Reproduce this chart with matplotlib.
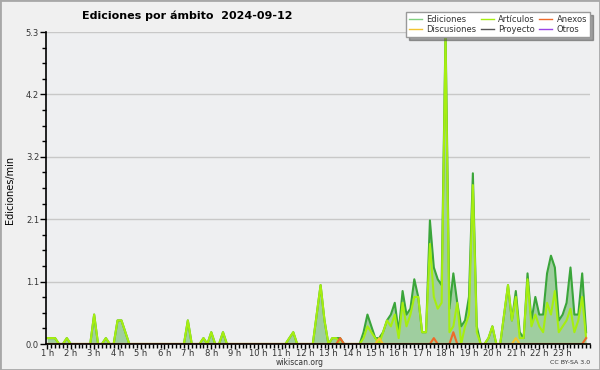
import numpy as np
import matplotlib.pyplot as plt
from matplotlib.lines import Line2D
from matplotlib.patches import Rectangle

# Ediciones/min cada 10 minutos, desde la 1 h (6 valores por hora)
ediciones = [
    0.1, 0.1, 0.1, 0.0, 0.0, 0.1,   # 1 h
    0.0, 0.0, 0.0, 0.0, 0.0, 0.0,   # 2 h
    0.5, 0.0, 0.0, 0.1, 0.0, 0.0,   # 3 h
    0.4, 0.4, 0.2, 0.0, 0.0, 0.0,   # 4 h
    0.0, 0.0, 0.0, 0.0, 0.0, 0.0,   # 5 h
    0.0, 0.0, 0.0, 0.0, 0.0, 0.0,   # 6 h
    0.4, 0.0, 0.0, 0.0, 0.1, 0.0,   # 7 h
    0.2, 0.0, 0.0, 0.2, 0.0, 0.0,   # 8 h
    0.0, 0.0, 0.0, 0.0, 0.0, 0.0,   # 9 h
    0.0, 0.0, 0.0, 0.0, 0.0, 0.0,   # 10 h
    0.0, 0.0, 0.1, 0.2, 0.0, 0.0,   # 11 h
    0.0, 0.0, 0.0, 0.5, 1.0, 0.4,   # 12 h
    0.0, 0.1, 0.1, 0.1, 0.0, 0.0,   # 13 h
    0.0, 0.0, 0.0, 0.2, 0.5, 0.3,   # 14 h
    0.1, 0.1, 0.2, 0.4, 0.5, 0.7,   # 15 h
    0.2, 0.9, 0.5, 0.6, 1.1, 0.8,   # 16 h
    0.2, 0.2, 2.1, 1.3, 1.1, 1.0,   # 17 h
    5.3, 0.6, 1.2, 0.7, 0.3, 0.4,   # 18 h
    0.8, 2.9, 0.3, 0.0, 0.0, 0.1,   # 19 h
    0.3, 0.0, 0.0, 0.5, 1.0, 0.4,   # 20 h
    0.9, 0.2, 0.1, 1.2, 0.4, 0.8,   # 21 h
    0.5, 0.5, 1.2, 1.5, 1.3, 0.4,   # 22 h
    0.5, 0.7, 1.3, 0.5, 0.5, 1.2,   # 23 h
    0.2,                            # 24 h
]

articulos = [
    0.1, 0.1, 0.1, 0.0, 0.0, 0.1,
    0.0, 0.0, 0.0, 0.0, 0.0, 0.0,
    0.5, 0.0, 0.0, 0.1, 0.0, 0.0,
    0.4, 0.4, 0.2, 0.0, 0.0, 0.0,
    0.0, 0.0, 0.0, 0.0, 0.0, 0.0,
    0.0, 0.0, 0.0, 0.0, 0.0, 0.0,
    0.4, 0.0, 0.0, 0.0, 0.1, 0.0,
    0.2, 0.0, 0.0, 0.2, 0.0, 0.0,
    0.0, 0.0, 0.0, 0.0, 0.0, 0.0,
    0.0, 0.0, 0.0, 0.0, 0.0, 0.0,
    0.0, 0.0, 0.1, 0.2, 0.0, 0.0,
    0.0, 0.0, 0.0, 0.5, 1.0, 0.4,
    0.0, 0.1, 0.1, 0.0, 0.0, 0.0,
    0.0, 0.0, 0.0, 0.1, 0.3, 0.2,
    0.1, 0.0, 0.2, 0.4, 0.3, 0.5,
    0.1, 0.7, 0.3, 0.5, 0.8, 0.8,
    0.2, 0.2, 1.7, 0.8, 0.6, 0.7,
    5.2, 0.2, 0.3, 0.7, 0.0, 0.3,
    0.5, 2.7, 0.2, 0.0, 0.0, 0.1,
    0.3, 0.0, 0.0, 0.5, 1.0, 0.4,
    0.8, 0.1, 0.1, 1.1, 0.3, 0.5,
    0.3, 0.2, 0.7, 0.5, 0.9, 0.2,
    0.3, 0.4, 0.6, 0.2, 0.4, 0.8,
    0.1,
]

# Series casi vacías: índice (cada 10 min desde la 1 h) y valor
anexos_idx = [75, 99, 104, 138]
anexos_val = [0.1, 0.1, 0.2, 0.1]
discusiones_idx = [85, 120]
discusiones_val = [0.1, 0.1]

horas = list(range(1, 24))
etiquetas = [f'{h} h' for h in horas]

# Construcción de series
n = len(ediciones)
t = 1 + np.arange(n) / 6.0
anexos = np.zeros(n)
anexos[anexos_idx] = anexos_val
discusiones = np.zeros(n)
discusiones[discusiones_idx] = discusiones_val
proyecto = np.zeros(n)
otros = np.zeros(n)

# Colores
c_edic_fill = '#9fce9f'
c_edic = '#3aa53a'
c_edic_leg = '#80d080'
c_art = '#a6ee10'
c_anx = '#ee6a2a'
c_disc = '#f2c430'
c_proy = '#555555'
c_otros = '#9a44e6'

fig = plt.figure(figsize=(6, 3.7), dpi=100, facecolor='#f0f0f0')
fig.patches.append(Rectangle((0, 0), 1, 1, transform=fig.transFigure,
                             fill=False, edgecolor='#a8a8a8', lw=2))
ax = fig.add_axes([46 / 600, 26 / 370, 544 / 600, 312 / 370])
ax.set_facecolor('#eeeff1')

lw = 1.5
ax.plot(t, otros, color=c_otros, lw=1)
ax.plot(t, proyecto, color=c_proy, lw=1)
ax.fill_between(t, ediciones, color=c_edic_fill, lw=0)
ax.plot(t, ediciones, color=c_edic, lw=lw)
ax.plot(t, articulos, color=c_art, lw=lw)
ax.plot(t, discusiones, color=c_disc, lw=lw)
ax.plot(t, anexos, color=c_anx, lw=lw)

ax.set_xlim(0.945, 24.09)
ax.set_ylim(0, 5.3)

ax.set_xticks(horas)
ax.set_xticklabels(etiquetas)
ax.set_xticks(1 + np.arange(0, 140) / 6.0, minor=True)
yt = np.linspace(0, 5.3, 6)
ax.set_yticks(yt)
ax.set_yticklabels([f'{v:.1f}' for v in yt])
ax.set_yticks(np.linspace(0, 5.3, 21), minor=True)

ax.tick_params(which='both', direction='out', color='black', width=1)
ax.tick_params(which='major', length=4, labelsize=6, labelcolor='#333333')
ax.tick_params(axis='x', which='major', length=3.5, pad=0)
ax.tick_params(axis='y', which='major', pad=1)
ax.tick_params(which='minor', length=3)
ax.grid(axis='y', color='#c8c8c8', lw=1)
ax.set_axisbelow(True)
for s in ['top', 'right']:
    ax.spines[s].set_visible(False)
for s in ['left', 'bottom']:
    ax.spines[s].set_linewidth(1.2)
    ax.spines[s].set_zorder(5)

fig.text(187 / 600, 1 - 16 / 370, 'Ediciones por ámbito  2024-09-12',
         ha='center', va='center', fontsize=8, fontweight='bold')
fig.text(10 / 600, 1 - 190 / 370, 'Ediciones/min', rotation=90,
         ha='center', va='center', fontsize=7)
fig.text(300 / 600, 1 - 362.5 / 370, 'wikiscan.org', ha='center', va='center',
         fontsize=5.5, color='#333333')
fig.text(590 / 600, 1 - 362.5 / 370, 'CC BY-SA 3.0', ha='right', va='center',
         fontsize=4.5, color='#333333')

handles = [
    Line2D([], [], color=c_edic_leg, lw=1), Line2D([], [], color=c_disc, lw=1),
    Line2D([], [], color=c_art, lw=1), Line2D([], [], color=c_proy, lw=1),
    Line2D([], [], color=c_anx, lw=1), Line2D([], [], color=c_otros, lw=1),
]
labels = ['Ediciones', 'Discusiones', 'Artículos', 'Proyecto', 'Anexos', 'Otros']
leg = fig.legend(handles, labels, ncol=3, loc='upper right',
                 bbox_to_anchor=(590 / 600, 1 - 12 / 370), borderaxespad=0,
                 fontsize=6, frameon=True, fancybox=False, shadow=True,
                 handlelength=1.6, columnspacing=0.5, labelspacing=0.15,
                 borderpad=0.35, handletextpad=0.5)
leg.get_frame().set_facecolor('white')
leg.get_frame().set_edgecolor('#999999')
leg.get_frame().set_alpha(1)
for txt in leg.get_texts():
    txt.set_color('#333333')

fig.savefig('out.png', dpi=100, facecolor=fig.get_facecolor())
